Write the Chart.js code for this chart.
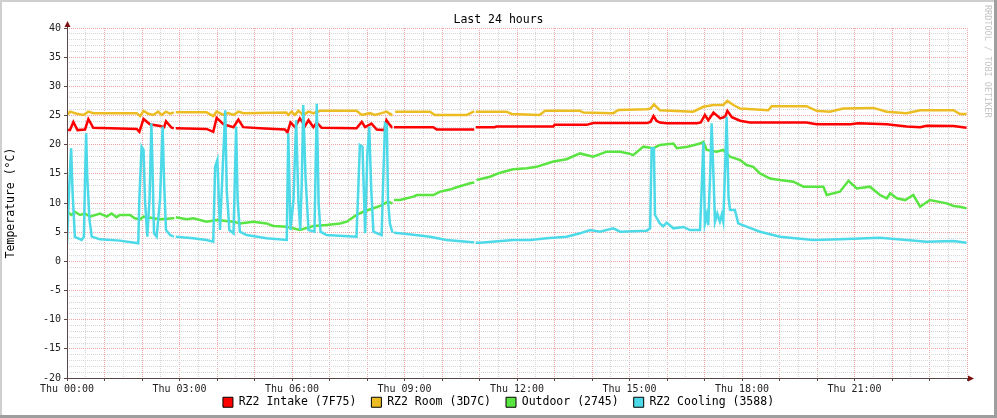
<!DOCTYPE html>
<html>
<head>
<meta charset="utf-8">
<script src="https://cdn.jsdelivr.net/npm/chart.js@4"></script>
<style>
  body { margin: 0; background: #fff; }
  canvas { display: block; }
</style>
</head>
<body>
<canvas id="chart" width="997" height="418"></canvas>
<script>
// Serie: [ora del giorno, temperatura °C], null = buco nei dati
const intake = [
  [0,22.5],[0.08,22.5],[0.17,23.9],[0.28,22.5],[0.48,22.6],[0.57,24.4],[0.70,22.9],[1.86,22.7],[1.93,22.2],
  [2.04,24.4],[2.21,23.5],[2.48,23.2],[2.59,23.0],[2.64,24.0],[2.79,22.9],[2.85,22.8],[2.87,null],[2.9,22.8],
  [3.72,22.7],[3.90,22.2],[3.99,24.6],[4.17,23.5],[4.44,23.0],[4.57,24.3],[4.70,23.0],[5.15,22.8],[5.81,22.6],
  [5.88,22.1],[5.96,23.8],[6.08,23.0],[6.21,24.5],[6.35,23.2],[6.44,24.2],[6.57,23.0],[6.66,23.8],[6.79,22.9],
  [7.72,22.8],[7.86,23.9],[7.95,23.0],[8.12,23.6],[8.26,22.6],[8.46,22.5],[8.52,24.2],[8.58,23.6],[8.66,23.0],
  [8.68,23.0],[8.7,null],[8.72,23.0],[9.77,23.0],[9.86,22.6],[10.86,22.6],[10.88,null],[10.9,23.0],[11.4,23.0],
  [11.45,23.1],[12.97,23.1],[13.0,23.4],[13.86,23.4],[14.03,23.7],[15.46,23.7],[15.56,23.9],[15.64,24.9],
  [15.72,24.1],[15.81,23.8],[16.0,23.66],[16.8,23.66],[16.9,23.8],[17.01,25.1],[17.1,24.2],[17.24,25.5],
  [17.42,24.5],[17.55,24.8],[17.61,25.8],[17.73,24.7],[17.95,24.1],[18.21,23.8],[19.72,23.8],[19.99,23.5],
  [20.9,23.5],[21.1,23.66],[21.86,23.5],[22.39,23.1],[22.75,23.0],[22.92,23.25],[23.64,23.2],[23.99,22.9]
];
const room = [
  [0,25.1],[0.08,25.66],[0.26,25.3],[0.44,25.1],[0.57,25.66],[0.70,25.4],[1.86,25.4],[1.95,24.9],[2.04,25.8],
  [2.17,25.3],[2.30,25.1],[2.43,25.66],[2.52,25.1],[2.64,25.66],[2.75,25.3],[2.85,25.55],[2.87,null],[2.9,25.55],
  [3.72,25.55],[3.9,24.9],[3.99,25.66],[4.17,25.1],[4.3,25.4],[4.44,25.1],[4.57,25.66],[4.7,25.4],[5.85,25.5],
  [5.9,25.1],[5.99,25.66],[6.08,25.1],[6.17,25.8],[6.3,25.1],[6.44,25.66],[6.57,25.4],[6.75,25.8],[7.72,25.8],
  [7.86,25.1],[8.08,25.4],[8.21,25.1],[8.39,25.4],[8.52,25.66],[8.66,25.1],[8.68,25.1],[8.7,null],[8.75,25.66],
  [9.68,25.66],[9.81,25.1],[10.66,25.1],[10.84,25.66],[10.86,25.66],[10.88,null],[10.9,25.66],[11.72,25.66],
  [11.86,25.26],[12.6,25.1],[12.75,25.8],[13.68,25.8],[13.77,25.5],[14.57,25.4],[14.7,25.95],[15.46,26.06],
  [15.56,26.2],[15.65,26.9],[15.81,25.9],[16.7,25.66],[16.97,26.5],[17.24,26.8],[17.5,26.8],[17.61,27.5],
  [17.77,26.8],[17.95,26.2],[18.7,25.9],[18.79,26.6],[19.72,26.6],[19.99,25.8],[20.34,25.66],[20.7,26.2],
  [21.5,26.3],[21.86,25.66],[22.39,25.37],[22.75,25.9],[23.64,25.9],[23.81,25.26],[23.99,25.26]
];
const outdoor = [
  [0,8.5],[0.12,7.95],[0.21,8.5],[0.35,7.95],[0.48,8.2],[0.61,7.66],[0.88,8.2],[1.06,7.66],[1.19,8.2],
  [1.32,7.55],[1.41,7.95],[1.68,7.95],[1.81,7.37],[1.95,7.2],[2.04,7.66],[2.48,7.2],[2.84,7.37],[2.86,7.37],
  [2.87,null],[2.9,7.55],[3.19,7.2],[3.37,7.37],[3.72,6.8],[3.99,7.09],[4.44,6.8],[4.61,6.5],[4.97,6.8],
  [5.32,6.5],[5.5,6.06],[5.86,5.94],[6.21,5.37],[6.57,6.06],[6.92,6.23],[7.28,6.5],[7.46,6.8],[7.72,7.95],
  [7.9,8.5],[8.17,9.1],[8.35,9.5],[8.57,10.23],[8.68,9.9],[8.7,null],[8.72,10.5],[8.88,10.5],[9.06,10.8],
  [9.24,11.09],[9.33,11.37],[9.77,11.37],[9.95,11.95],[10.21,12.3],[10.39,12.7],[10.75,13.37],[10.86,13.5],
  [10.88,null],[10.92,13.95],[11.28,14.5],[11.55,15.2],[11.9,15.77],[12.26,15.95],[12.52,16.2],[12.97,17.1],
  [13.32,17.5],[13.68,18.5],[14.03,17.95],[14.39,18.8],[14.75,18.8],[14.97,18.5],[15.1,18.2],[15.37,19.66],
  [15.64,19.4],[15.81,19.95],[16.17,20.2],[16.26,19.4],[16.55,19.66],[16.88,20.2],[16.97,20.5],[17.06,19.1],
  [17.32,18.8],[17.5,19.1],[17.68,17.94],[17.95,17.37],[18.12,16.5],[18.3,16.2],[18.48,15.08],[18.75,14.2],
  [19.01,13.94],[19.37,13.66],[19.64,12.8],[20.17,12.8],[20.26,11.37],[20.61,11.94],[20.84,13.8],[21.06,12.5],
  [21.41,12.8],[21.68,11.37],[21.86,10.8],[21.95,11.66],[22.13,10.8],[22.35,10.5],[22.57,11.37],[22.75,9.37],
  [23.01,10.5],[23.46,9.94],[23.64,9.48],[23.81,9.37],[23.99,9.08]
];
const cooling = [
  [0,3.1],[0.06,12.8],[0.11,19.4],[0.15,11.66],[0.21,4.2],[0.39,3.66],[0.45,4.2],[0.48,13.95],[0.51,21.95],
  [0.54,14.5],[0.60,7.09],[0.66,4.23],[0.88,3.77],[1.41,3.55],[1.9,3.09],[1.93,10.8],[1.99,19.66],[2.04,19.1],
  [2.08,10.5],[2.14,4.23],[2.2,10.5],[2.25,23.66],[2.28,16.2],[2.32,4.8],[2.39,4.23],[2.48,10.5],[2.55,23.1],
  [2.59,13.4],[2.64,5.37],[2.75,4.5],[2.85,4.23],[2.87,null],[2.9,4.23],[3.37,3.94],[3.72,3.66],[3.9,3.37],
  [3.95,16.2],[4.01,17.37],[4.08,5.37],[4.15,15.66],[4.22,25.9],[4.26,12.2],[4.33,5.37],[4.44,4.8],[4.51,23.1],
  [4.55,10.5],[4.61,5.09],[4.79,4.5],[5.32,3.94],[5.86,3.66],[5.9,21.95],[5.96,5.37],[6.04,10.5],[6.11,24.2],
  [6.17,10.5],[6.22,5.37],[6.26,13.4],[6.30,26.8],[6.36,14.5],[6.44,5.37],[6.6,5.09],[6.63,16.2],[6.66,27.0],
  [6.71,9.9],[6.76,5.09],[6.92,4.5],[7.37,4.35],[7.72,4.23],[7.81,19.94],[7.88,19.66],[7.95,4.8],[8.01,18.5],
  [8.06,23.1],[8.11,12.8],[8.17,5.09],[8.39,4.5],[8.43,13.4],[8.48,23.66],[8.53,23.4],[8.56,10.5],[8.61,6.5],
  [8.68,4.9],[8.7,null],[8.72,4.9],[9.06,4.7],[9.68,4.23],[10.12,3.66],[10.66,3.37],[10.86,3.25],[10.88,null],
  [10.9,3.2],[11.01,3.2],[11.9,3.66],[12.35,3.66],[12.79,3.94],[13.32,4.23],[13.68,4.8],[13.95,5.37],
  [14.21,5.09],[14.57,5.66],[14.75,5.09],[15.46,5.26],[15.55,5.66],[15.59,19.37],[15.65,19.37],[15.68,7.94],
  [15.81,6.5],[15.9,6.0],[15.99,6.63],[16.17,5.66],[16.44,5.9],[16.61,5.37],[16.88,5.37],[16.92,11.66],
  [16.97,20.5],[17.01,6.5],[17.06,8.0],[17.1,6.2],[17.15,14.8],[17.19,23.66],[17.24,14.5],[17.28,6.8],
  [17.34,8.2],[17.41,6.8],[17.46,8.0],[17.5,6.8],[17.55,16.2],[17.59,24.8],[17.64,11.1],[17.68,8.8],
  [17.81,8.8],[17.9,6.5],[18.12,5.94],[18.48,5.08],[19.01,4.23],[19.9,3.66],[20.61,3.8],[21.68,4.06],
  [22.39,3.66],[22.92,3.37],[23.64,3.5],[23.99,3.2]
];

const seriesNames = ['RZ2 Intake (7F75)', 'RZ2 Room (3D7C)', 'Outdoor (2745)', 'RZ2 Cooling (3588)'];
const seriesColors = ['#ff0000', '#ebbd22', '#5ae442', '#4cd9e8'];
const seriesData = [intake, room, outdoor, cooling];
const dayLabel = 'Thu';
const chartTitle = 'Last 24 hours';
const yTitle = 'Temperature (°C)';
const watermark = 'RRDTOOL / TOBI OETIKER';

const MONO = "'DejaVu Sans Mono', monospace";
const MAJOR = '#f2a3a3';
const MINOR = '#d6d6d6';
const AXIS = '#5a4646';
const ARROW = '#7f1010';

// Cornice, titolo, assi con frecce e scritte laterali (stile rrdtool)
const rrdDecor = {
  id: 'rrdDecor',
  afterLayout(chart) {
    // l'asse x e' bassissimo: allargo la zona di clip delle etichette fino in fondo
    const x = chart.scales.x;
    x.bottom = chart.height;
  },
  beforeDraw(chart) {
    const {ctx, width, height} = chart;
    ctx.save();
    ctx.fillStyle = '#ffffff';
    ctx.fillRect(0, 0, width, height);
    ctx.fillStyle = '#cfcfcf';
    ctx.fillRect(0, 0, width, 2);
    ctx.fillRect(0, 0, 2, height);
    ctx.fillStyle = '#9e9e9e';
    ctx.fillRect(0, height - 3, width, 3);
    ctx.fillRect(width - 3, 0, 3, height);
    ctx.restore();
  },
  afterDraw(chart) {
    const {ctx, chartArea: a} = chart;
    ctx.save();
    // assi
    ctx.strokeStyle = AXIS;
    ctx.lineWidth = 1;
    ctx.beginPath();
    ctx.moveTo(a.left - 3, a.bottom + 0.5);
    ctx.lineTo(a.right + 3, a.bottom + 0.5);
    ctx.moveTo(a.left + 0.5, a.bottom + 3);
    ctx.lineTo(a.left + 0.5, a.top - 3);
    ctx.stroke();
    // frecce
    ctx.fillStyle = ARROW;
    ctx.beginPath();
    ctx.moveTo(a.left + 0.5, a.top - 7);
    ctx.lineTo(a.left - 2.5, a.top - 1);
    ctx.lineTo(a.left + 3.5, a.top - 1);
    ctx.closePath();
    ctx.fill();
    ctx.beginPath();
    ctx.moveTo(a.right + 7, a.bottom + 0.5);
    ctx.lineTo(a.right + 1, a.bottom - 2.5);
    ctx.lineTo(a.right + 1, a.bottom + 3.5);
    ctx.closePath();
    ctx.fill();
    // titolo
    ctx.fillStyle = '#000';
    ctx.font = '11.5px ' + MONO;
    ctx.textAlign = 'center';
    ctx.textBaseline = 'middle';
    ctx.fillText(chartTitle, chart.width / 2, 20);
    // titolo asse y
    ctx.save();
    ctx.translate(11, (a.top + a.bottom) / 2);
    ctx.rotate(-Math.PI / 2);
    ctx.fillText(yTitle, 0, 0);
    ctx.restore();
    // scritta verticale
    ctx.save();
    ctx.translate(987, 5);
    ctx.rotate(Math.PI / 2);
    ctx.fillStyle = '#c4c4c4';
    ctx.font = '8.5px ' + MONO;
    ctx.textAlign = 'left';
    ctx.fillText(watermark, 0, 0);
    ctx.restore();
    ctx.restore();
  }
};

const ctx = document.getElementById('chart').getContext('2d');

new Chart(ctx, {
  type: 'line',
  data: {
    datasets: seriesData.map((s, i) => ({
      label: seriesNames[i],
      data: s.map(p => ({x: p[0], y: p[1]})),
      borderColor: seriesColors[i],
      backgroundColor: seriesColors[i],
      borderWidth: 2.5,
      pointRadius: 0,
      tension: 0,
      fill: false,
      spanGaps: false,
      order: seriesData.length - i // l'ultima serie sta sopra
    }))
  },
  options: {
    responsive: false,
    animation: false,
    devicePixelRatio: 1,
    layout: { padding: { top: 28, left: 0, right: 0, bottom: 0 } },
    plugins: {
      tooltip: { enabled: false },
      title: { display: false },
      legend: {
        position: 'bottom',
        labels: {
          font: { family: MONO, size: 11.5 },
          color: '#000',
          boxWidth: 10,
          boxHeight: 10,
          padding: 15,
          sort: (a, b) => a.datasetIndex - b.datasetIndex,
          generateLabels(chart) {
            const items = Chart.defaults.plugins.legend.labels.generateLabels(chart);
            items.forEach(it => { it.strokeStyle = '#000'; it.lineWidth = 1; });
            return items;
          }
        }
      }
    },
    scales: {
      x: {
        type: 'linear',
        min: 0,
        max: 24,
        afterFit(scale) { scale.height = 3.5; },
        border: { display: false, dash: [1, 1] },
        grid: {
          color: c => (c.tick.value % 1 === 0 ? MAJOR : MINOR),
          lineWidth: 1,
          drawTicks: true,
          tickLength: 3,
          tickColor: c => (c.tick.value % 1 === 0 ? AXIS : 'rgba(0,0,0,0)')
        },
        ticks: {
          stepSize: 0.5,
          autoSkip: false,
          maxRotation: 0,
          padding: 2,
          color: '#222',
          font: { family: MONO, size: 10 },
          callback: v => (v % 3 === 0 && v < 24 ? dayLabel + ' ' + String(v).padStart(2, '0') + ':00' : '')
        }
      },
      y: {
        min: -20,
        max: 40,
        afterFit(scale) { scale.width = 67; },
        border: { display: false, dash: [1, 1] },
        grid: {
          color: c => (c.tick.value % 5 === 0 ? MAJOR : MINOR),
          lineWidth: 1,
          drawTicks: true,
          tickLength: 3,
          tickColor: c => (c.tick.value % 5 === 0 ? AXIS : 'rgba(0,0,0,0)')
        },
        ticks: {
          stepSize: 1,
          autoSkip: false,
          padding: 3,
          color: '#222',
          font: { family: MONO, size: 10 },
          callback: v => (v % 5 === 0 ? v : '')
        }
      },
      yRight: {
        position: 'right',
        display: true,
        afterFit(scale) { scale.width = 30; },
        grid: { display: false },
        border: { display: false },
        ticks: { display: false }
      }
    }
  },
  plugins: [rrdDecor]
});
</script>
</body>
</html>
